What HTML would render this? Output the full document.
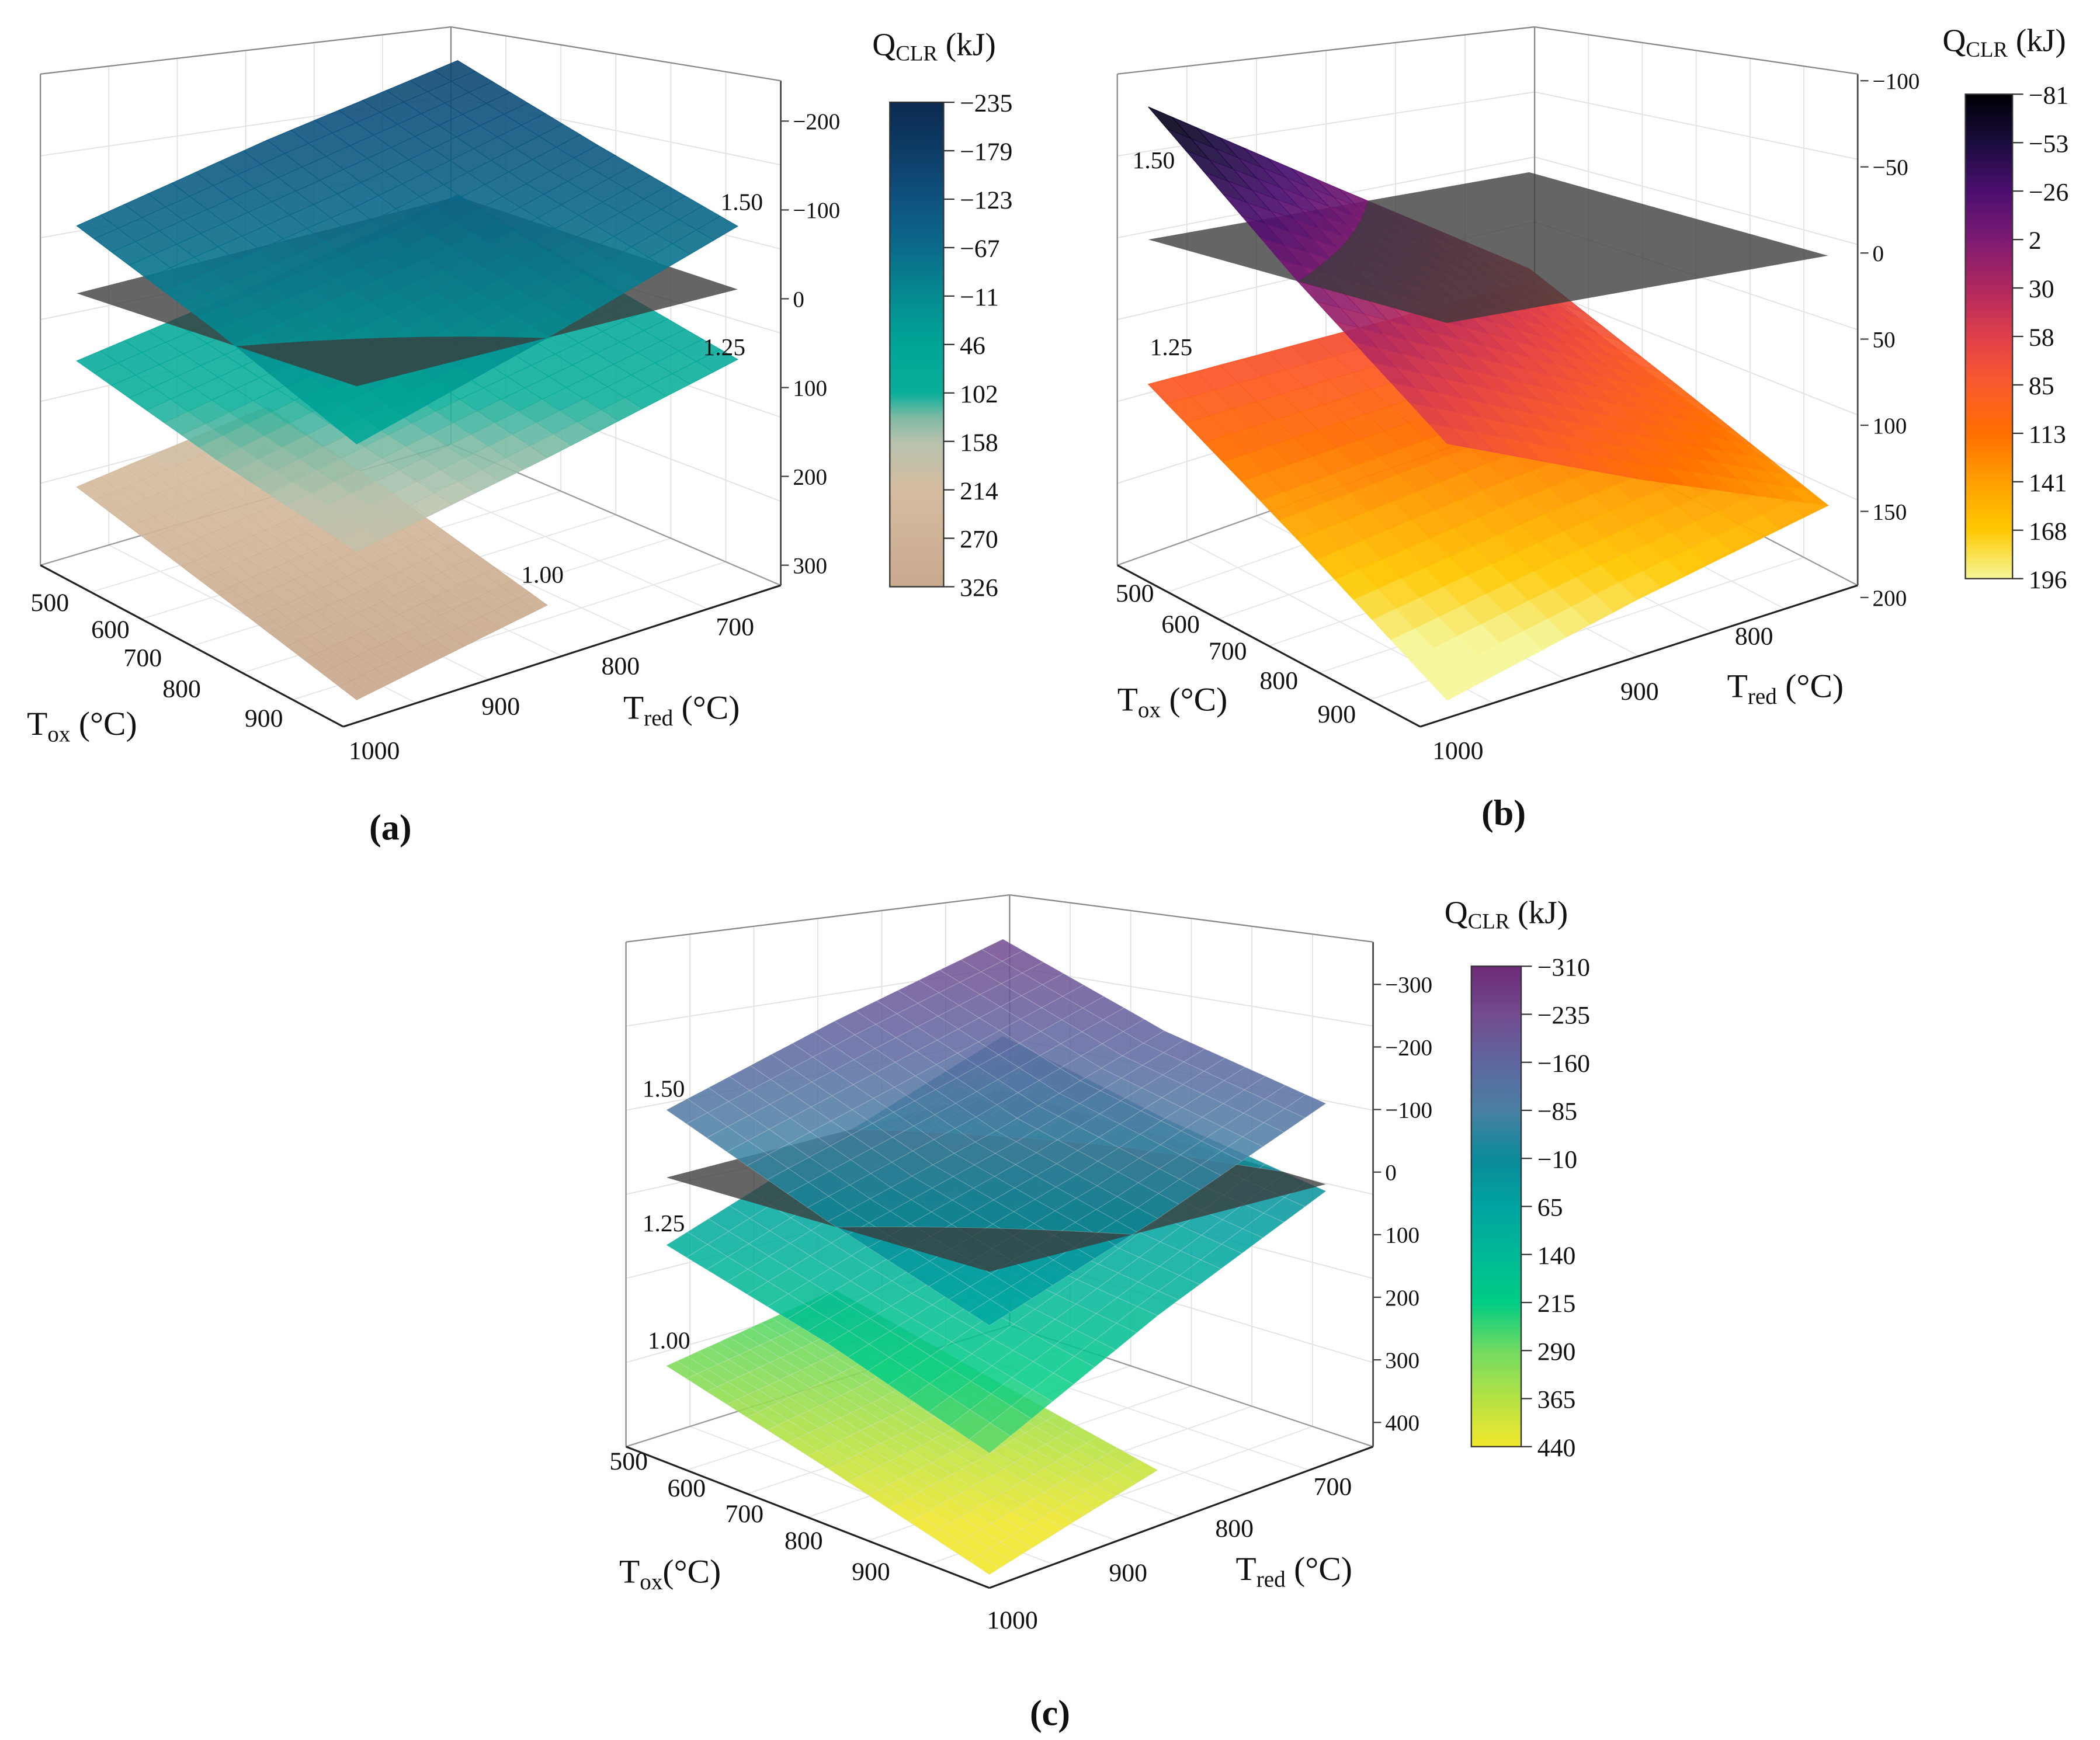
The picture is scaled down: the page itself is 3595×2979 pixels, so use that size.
<!DOCTYPE html>
<html><head><meta charset="utf-8"><title>QCLR surfaces</title>
<style>
html,body{margin:0;padding:0;background:#fff;}
svg{display:block;}
text{font-family:"Liberation Serif",serif;fill:#111;}
</style></head>
<body>
<svg id="fig" xmlns="http://www.w3.org/2000/svg" width="3595" height="2979" viewBox="0 0 1560 1293" preserveAspectRatio="none">
<defs id="defs"></defs>
<g id="frames"></g>
<g id="surfaces"></g>
<g id="labels"></g>
</svg>
<script>
// ---------- data ----------
const toxGrid = [500, 750, 1000];
const tredGridFull = [1000, 825, 650];
const tredGridHalf = [1000, 912, 825];

// panel (a) values [tox][tred]
const qA150 = [[-76,-118,-153],[-10,-49,-110],[65,0,-71]];
const qA125 = [[76,40,-2],[135,82,40],[186,135,79]];
const qA100 = [[218,200,182],[285,265,240],[353,327,301]];
// panel (b)
const qB150 = [[-77,-10,56],[0,50,100],[70,110,145]];
const qB125 = [[84,74,64],[150,125,105],[219,180,145]];
// panel (c)
const qC150 = [[-108,-180,-241],[-5,-80,-170],[86,-15,-129]];
const qC125 = [[108,10,-86],[190,100,-30],[290,140,11]];
const qC100 = [[301,275,249],[390,360,320],[484,435,387]];

const cbTicksA = [-235,-179,-123,-67,-11,46,102,158,214,270,326];
const cbTicksB = [-81,-53,-26,2,30,58,85,113,141,168,196];
const cbTicksC = [-310,-235,-160,-85,-10,65,140,215,290,365,440];
const qTicksA = [-200,-100,0,100,200,300];
const qTicksB = [-100,-50,0,50,100,150,200];
const qTicksC = [-300,-200,-100,0,100,200,300,400];

const cmapA = [[-235,'#0b2a50'],[-179,'#0d3c66'],[-123,'#0e527e'],[-67,'#0b6a8a'],[-11,'#058a90'],[46,'#00a597'],[102,'#09ae99'],[130,'#7fbaa3'],[158,'#b7c2ae'],[214,'#d5bc9f'],[326,'#c9a98e']];
const cmapB = [[-81,'#000004'],[-53,'#1a0c3e'],[-26,'#4a0e6e'],[2,'#7c1a73'],[30,'#b0285f'],[58,'#e0404a'],[85,'#fb5a2c'],[113,'#ff6f00'],[141,'#ffa000'],[168,'#ffc800'],[196,'#f5f79a']];
const cmapC = [[-310,'#6d2a78'],[-235,'#734b8f'],[-160,'#5f66a0'],[-85,'#4a80a4'],[-10,'#0a8a9a'],[65,'#00a3a0'],[140,'#00b896'],[215,'#00cd85'],[290,'#70da60'],[365,'#b5e244'],[440,'#f2e82c']];

// ---------- helpers ----------
const NS='http://www.w3.org/2000/svg';
function mk(tag, attrs, parent){const e=document.createElementNS(NS,tag);for(const k in attrs)e.setAttribute(k,attrs[k]);(parent||document.getElementById('surfaces')).appendChild(e);return e;}
function hex(c){return [parseInt(c.slice(1,3),16),parseInt(c.slice(3,5),16),parseInt(c.slice(5,7),16)];}
function cmap(stops,q){
  if(q<=stops[0][0])return stops[0][1];
  if(q>=stops[stops.length-1][0])return stops[stops.length-1][1];
  for(let i=0;i<stops.length-1;i++){const a=stops[i],b=stops[i+1];if(q>=a[0]&&q<=b[0]){const t=(q-a[0])/(b[0]-a[0]);const x=hex(a[1]),y=hex(b[1]);return 'rgb('+x.map((v,j)=>Math.round(v+(y[j]-v)*t)).join(',')+')';}}
}
function makeProj(L,F,R,k){
  return function(tox,tred,q){const u=(tox-500)/500,v=(1000-tred)/350;
    return [L[0]+u*(F[0]-L[0])+v*(R[0]-F[0]), L[1]+u*(F[1]-L[1])+v*(R[1]-F[1])+q*k];};
}
function interp(grid,gx,gy,x,y){
  const fx=(x-gx[0])/(gx[2]-gx[0])*2, fy=(y-gy[0])/(gy[2]-gy[0])*2;
  const i=Math.min(1,Math.floor(fx)), j=Math.min(1,Math.floor(fy));
  const tx=fx-i, ty=fy-j;
  return grid[i][j]*(1-tx)*(1-ty)+grid[i+1][j]*tx*(1-ty)+grid[i][j+1]*(1-tx)*ty+grid[i+1][j+1]*tx*ty;
}
// split polygon [tox,tred,q] by q sign
function clipPoly(poly,keepPos){
  const out=[];const ins=p=>keepPos?p[2]>=0:p[2]<0;
  for(let i=0;i<poly.length;i++){const a=poly[i],b=poly[(i+1)%poly.length];
    const ia=ins(a),ib=ins(b);
    if(ia)out.push(a);
    if(ia!==ib){const t=a[2]/(a[2]-b[2]);out.push([a[0]+(b[0]-a[0])*t,a[1]+(b[1]-a[1])*t,0]);}
  }
  return out;
}
function surfaceCells(name,proj,grid,tred,stops,opacity,stroke,keepPos){
  const N=16, cells=[];
  for(let a=0;a<N;a++)for(let b=0;b<N;b++){
    const t0=500+a*500/N,t1=500+(a+1)*500/N;
    const r0=tred[0]+b*(tred[2]-tred[0])/N,r1=tred[0]+(b+1)*(tred[2]-tred[0])/N;
    const raw=[[t0,r0],[t1,r0],[t1,r1],[t0,r1]].map(p=>[p[0],p[1],interp(grid,toxGrid,tred,p[0],p[1])]);
    const qa=(raw[0][2]+raw[1][2]+raw[2][2]+raw[3][2])/4;
    const poly=clipPoly(raw,keepPos);
    if(poly.length<3)continue;
    cells.push({name,pts:poly.map(p=>proj(p[0],p[1],p[2])),qa,stops,opacity,stroke,depth:a-b});
  }
  return cells;
}
function drawCells(cells,layer){
  cells.sort((x,y)=>x.depth-y.depth);
  cells.forEach(c=>{
    const col=cmap(c.stops,c.qa);
    const p=mk('polygon',{points:c.pts.map(p=>p[0].toFixed(1)+','+p[1].toFixed(1)).join(' '),fill:col,'fill-opacity':c.opacity,stroke:c.stroke||col,'stroke-width':c.stroke?0.4:0.5,'stroke-opacity':c.stroke?0.3:c.opacity},layer);
    
    
  });
}
function drawPlane(name,proj,tred,layer){
  const pts=[[500,tred[0]],[1000,tred[0]],[1000,tred[2]],[500,tred[2]]].map(p=>proj(p[0],p[1],0));
  const p=mk('polygon',{points:pts.map(p=>p.join(',')).join(' '),fill:'#3a3a3a','fill-opacity':0.78},layer);
  
  
}
function renderPanel(id,proj,surfs){
  const g=mk('g',{},document.getElementById('surfaces'));
  
  
  const below=mk('g',{},g),plane=mk('g',{},g),above=mk('g',{},g);
  
  
  
  surfs.forEach(s=>drawCells(surfaceCells(s.name,proj,s.grid,s.tred,s.stops,s.op,s.stroke,true),below));
  drawPlane('zero-plane-'+id,proj,tredGridFull,plane);
  surfs.forEach(s=>drawCells(surfaceCells(s.name,proj,s.grid,s.tred,s.stops,s.op,s.stroke,false),above));
}
function line(p,q,col,w,parent,name){const l=mk('line',{x1:p[0],y1:p[1],x2:q[0],y2:q[1],stroke:col,'stroke-width':w},parent);return l;}
function txt(x,y,s,size,parent,name,anchor,weight){const t=mk('text',{x:x,y:y,'font-size':size,'text-anchor':anchor||'start','font-weight':weight||'normal'},parent);t.textContent=s;return t;}
function lerp(a,b,t){return [a[0]+(b[0]-a[0])*t,a[1]+(b[1]-a[1])*t];}
function frame(id,LT,LB,BT,BB,RT,RB,FB){
  const g=mk('g',{},document.getElementById('frames'));
  
  for(let i=1;i<6;i++){const t=i/6;
    line(lerp(LT,LB,t),lerp(BT,BB,t),'#e2e2e2',0.8,g,'wall-grid');
    line(lerp(BT,BB,t),lerp(RT,RB,t),'#e2e2e2',0.8,g,'wall-grid');
    line(lerp(LT,BT,t),lerp(LB,BB,t),'#e2e2e2',0.8,g,'wall-grid');
    line(lerp(BT,RT,t),lerp(BB,RB,t),'#e2e2e2',0.8,g,'wall-grid');
    line(lerp(LB,FB,t),lerp(BB,RB,t),'#e6e6e6',0.8,g,'floor-grid');
    line(lerp(LB,BB,t),lerp(FB,RB,t),'#e6e6e6',0.8,g,'floor-grid');
  }
  line(LT,LB,'#888',1,g,'box-edge');line(BT,BB,'#888',1,g,'box-edge');line(RT,RB,'#444',1.2,g,'z-axis-line');
  line(LT,BT,'#888',1,g,'box-edge');line(BT,RT,'#888',1,g,'box-edge');
  line(LB,BB,'#999',1,g,'box-edge');line(BB,RB,'#999',1,g,'box-edge');
  line(LB,FB,'#222',1.4,g,'tox-axis-line');line(FB,RB,'#222',1.4,g,'tred-axis-line');
}
function zTicks(id,ticks,x,y0,k,q0){
  const g=mk('g',{},document.getElementById('labels'));
  
  ticks.forEach(v=>{const y=y0+(v-q0)*k;line([x-6,y],[x,y],'#444',1,g,'z-tick');
    txt(x+3,y+6,v<0?'\u2212'+(-v):String(v),17,g,'z-tick-label','start');});
}
function colorbar(id,stops,ticks,x,y0,w,h,tx,ty){
  const defs=document.getElementById('defs');
  const gr=mk('linearGradient',{id:'cb'+id,x1:0,y1:0,x2:0,y2:1},defs);
  stops.forEach(s=>mk('stop',{offset:((s[0]-stops[0][0])/(stops[stops.length-1][0]-stops[0][0])).toFixed(4),'stop-color':s[1]},gr));
  const g=mk('g',{},document.getElementById('labels'));
  
  const r=mk('rect',{x:x,y:y0,width:w,height:h,fill:'url(#cb'+id+')',stroke:'#333','stroke-width':1},g);
  
  ticks.forEach((v,i)=>{const y=y0+h*i/(ticks.length-1);line([x+w,y],[x+w+8,y],'#333',1,g,'colorbar-tick');
    txt(x+w+12,y+7,v<0?'\u2212'+(-v):String(v),19,g,'colorbar-tick-label','start');});
  const t=txt(tx,ty,'Q',24,g,'colorbar-title','start');
  const s=mk('tspan',{'font-size':16,dy:4},t);s.textContent='CLR';
  const s2=mk('tspan',{dy:-4},t);s2.textContent=' (kJ)';
}
function axisLabel(x,y,base,sub,rest,parent,name){
  const t=txt(x,y,base,25,parent,name,'start');
  const s=mk('tspan',{'font-size':17,dy:5},t);s.textContent=sub;
  const s2=mk('tspan',{dy:-5},t);s2.textContent=rest;
}
function labelSet(id,list){
  const g=mk('g',{},document.getElementById('labels'));
  
  list.forEach(l=>txt(l[0],l[1],l[2],l[3]||19,g,l[4]||'tick-label',l[5]||'middle',l[6]));
  return g;
}

// ---------- panel (a) ----------
frame('a',[30,55],[30,420],[335,20],[335,330],[580,60],[580,435],[255,540]);
const projA=makeProj([57,218],[265,287],[548,215],0.66);
renderPanel('a',projA,[
  {name:'surface-a-100',grid:qA100,tred:tredGridHalf,stops:cmapA,op:0.92},
  {name:'surface-a-125',grid:qA125,tred:tredGridFull,stops:cmapA,op:0.88},
  {name:'surface-a-150',grid:qA150,tred:tredGridFull,stops:cmapA,op:0.9}
]);
zTicks('a',qTicksA,586,222,0.66,0);
colorbar('a',cmapA,cbTicksA,661,76,40,360,648,41);
let ga=labelSet('a',[[37,454,'500'],[82,474,'600'],[106,495,'700'],[135,518,'800'],[196,540,'900'],[278,564,'1000'],
  [372,531,'900'],[461,501,'800'],[546,472,'700'],
  [551,156,'1.50',18,'ratio-label'],[538,264,'1.25',18,'ratio-label'],[403,433,'1.00',18,'ratio-label'],
  [290,624,'(a)',27,'panel-label','middle','bold']]);
axisLabel(20,546,'T','ox',' (\u00b0C)',ga,'tox-axis-title');
axisLabel(463,534,'T','red',' (\u00b0C)',ga,'tred-axis-title');

// ---------- panel (b) ----------
frame('b',[830,55],[830,420],[1140,20],[1140,310],[1380,55],[1380,435],[1055,540]);
const projB=makeProj([853,178],[1075,240],[1358,190],1.28);
renderPanel('b',projB,[
  {name:'surface-b-125',grid:qB125,tred:tredGridFull,stops:cmapB,op:0.95},
  {name:'surface-b-150',grid:qB150,tred:tredGridFull,stops:cmapB,op:0.92}
]);
zTicks('b',qTicksB,1388,188,1.28,0);
colorbar('b',cmapB,cbTicksB,1460,70,35,360,1443,38);
let gb=labelSet('b',[[843,447,'500'],[877,470,'600'],[912,490,'700'],[950,512,'800'],[993,537,'900'],[1083,564,'1000'],
  [1218,520,'900'],[1303,479,'800'],
  [857,125,'1.50',18,'ratio-label'],[870,264,'1.25',18,'ratio-label'],
  [1117,613,'(b)',27,'panel-label','middle','bold']]);
axisLabel(830,528,'T','ox',' (\u00b0C)',gb,'tox-axis-title');
axisLabel(1283,518,'T','red',' (\u00b0C)',gb,'tred-axis-title');

// ---------- panel (c) ----------
frame('c',[465,700],[465,1075],[750,665],[750,985],[1020,700],[1020,1075],[735,1180]);
const projC=makeProj([495,875],[735,945],[985,880],0.465);
renderPanel('c',projC,[
  {name:'surface-c-100',grid:qC100,tred:tredGridHalf,stops:cmapC,op:0.9,stroke:'#dddddd'},
  {name:'surface-c-125',grid:qC125,tred:tredGridFull,stops:cmapC,op:0.86,stroke:'#dddddd'},
  {name:'surface-c-150',grid:qC150,tred:tredGridFull,stops:cmapC,op:0.86,stroke:'#dddddd'}
]);
zTicks('c',qTicksC,1026,871,0.465,0);
colorbar('c',cmapC,cbTicksC,1093,718,37,357,1073,686);
let gc=labelSet('c',[[467,1092,'500'],[510,1112,'600'],[553,1131,'700'],[597,1151,'800'],[647,1174,'900'],[752,1210,'1000'],
  [838,1175,'900'],[917,1142,'800'],[990,1111,'700'],
  [493,815,'1.50',18,'ratio-label'],[493,915,'1.25',18,'ratio-label'],[497,1002,'1.00',18,'ratio-label'],
  [780,1282,'(c)',27,'panel-label','middle','bold']]);
axisLabel(460,1176,'T','ox','(\u00b0C)',gc,'tox-axis-title');
axisLabel(918,1174,'T','red',' (\u00b0C)',gc,'tred-axis-title');
</script>
</body></html>
